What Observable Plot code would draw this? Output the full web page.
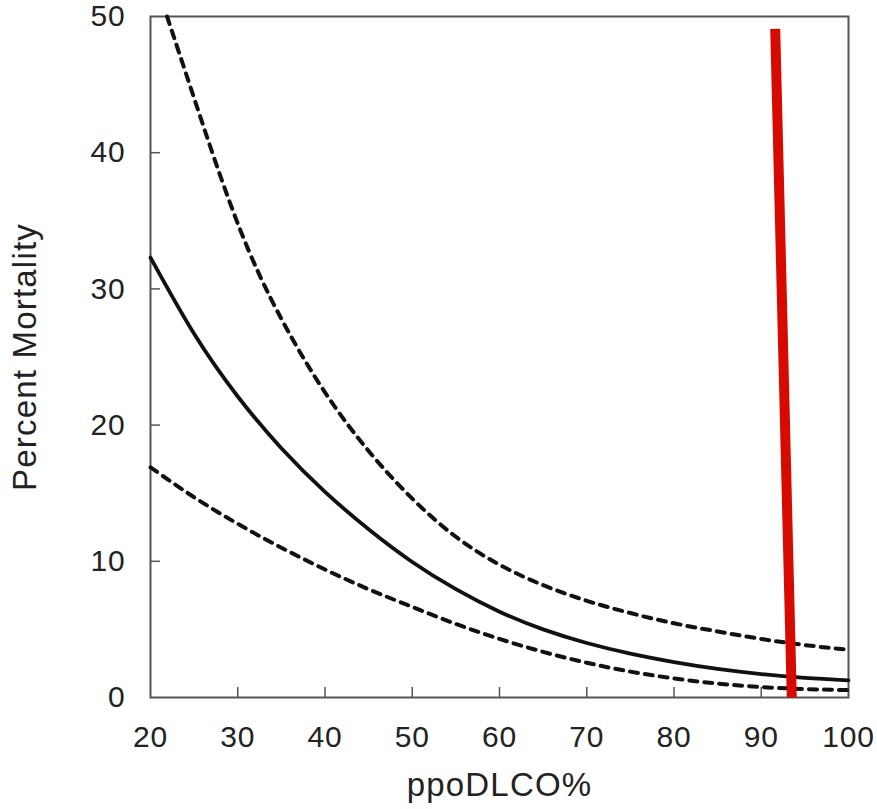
<!DOCTYPE html>
<html>
<head>
<meta charset="utf-8">
<script src="https://cdn.jsdelivr.net/npm/d3@7"></script>
<script src="https://cdn.jsdelivr.net/npm/@observablehq/plot@0.6"></script>
<style>
  html, body { margin: 0; padding: 0; background: #fff; }
  #chart svg { font-family: "Liberation Sans", Arial, Helvetica, sans-serif; }
  #chart svg g[aria-label="x-axis label"] text,
  #chart svg g[aria-label="y-axis label"] text { letter-spacing: 1.2px; }
  #chart svg g[aria-label="x-axis tick label"] text,
  #chart svg g[aria-label="y-axis tick label"] text { letter-spacing: 0.8px; }
</style>
</head>
<body>
<div id="chart"></div>
<script>
// ppoDLCO% values
const xFit = [20, 25, 30, 35, 40, 45, 50, 55, 60, 65, 70, 75, 80, 85, 90, 95, 100];
// Fitted percent mortality (solid)
const fitMortality = [32.3, 26.7, 22.1, 18.3, 15.1, 12.35, 9.95, 7.95, 6.3, 5.0, 4.0, 3.22, 2.6, 2.1, 1.72, 1.44, 1.26];
// Lower confidence band (dashed)
const lowerBand = [16.9, 14.7, 12.75, 11.0, 9.4, 7.95, 6.65, 5.4, 4.3, 3.35, 2.55, 1.9, 1.4, 1.02, 0.77, 0.62, 0.54];
// Upper confidence band (dashed), starts where it enters the plot at the top
const xUpper = [21.9, 25, 30, 35, 40, 45, 50, 55, 60, 65, 70, 75, 80, 85, 90, 95, 100];
const upperBand = [50, 44.0, 34.8, 27.8, 22.4, 18.1, 14.6, 11.8, 9.75, 8.25, 7.1, 6.2, 5.45, 4.85, 4.3, 3.85, 3.5];
// Red marker line (drawn over the chart)
const redX = [91.6, 93.5];
const redY = [49.1, 0];

const xTicks = [20, 30, 40, 50, 60, 70, 80, 90, 100];
const yTicks = [0, 10, 20, 30, 40, 50];
const xInnerTicks = [30, 40, 50, 60, 70, 80, 90];
const yInnerTicks = [10, 20, 30, 40];

const fit = xFit.map((x, i) => ({x, y: fitMortality[i]}));
const lower = xFit.map((x, i) => ({x, y: lowerBand[i]}));
const upper = xUpper.map((x, i) => ({x, y: upperBand[i]}));
const red = redX.map((x, i) => ({x, y: redY[i]}));

const chart = Plot.plot({
  width: 877,
  height: 809,
  marginLeft: 150,
  marginRight: 29,
  marginTop: 16,
  marginBottom: 112,
  x: {domain: [20, 100]},
  y: {domain: [0, 50]},
  style: {fontFamily: '"Liberation Sans", Arial, Helvetica, sans-serif', color: "#222", background: "#fff"},
  marks: [
    // inward tick marks
    Plot.axisX({ticks: xInnerTicks, tickSize: -10, text: null, label: null, stroke: "#555", strokeWidth: 1.5}),
    Plot.axisY({ticks: yInnerTicks, tickSize: -10, text: null, label: null, stroke: "#555", strokeWidth: 1.5}),
    // tick labels
    Plot.axisX({ticks: xTicks, tickSize: 0, tickPadding: 28, fontSize: 30, label: null, fill: "#222"}),
    Plot.axisY({ticks: yTicks, tickSize: 0, tickPadding: 25, fontSize: 30, label: null, fill: "#222"}),
    // axis titles
    Plot.axisX({ticks: [], tickSize: 0, label: "ppoDLCO%", labelAnchor: "center", labelArrow: "none", labelOffset: 98, fontSize: 33, fill: "#222"}),
    Plot.axisY({ticks: [], tickSize: 0, label: "Percent Mortality", labelAnchor: "center", labelArrow: "none", labelOffset: 138, fontSize: 33, fill: "#222"}),
    Plot.frame({stroke: "#555", strokeWidth: 2}),
    Plot.line(upper, {x: "x", y: "y", curve: "natural", stroke: "#111", strokeWidth: 4, strokeDasharray: "8,7"}),
    Plot.line(lower, {x: "x", y: "y", curve: "natural", stroke: "#111", strokeWidth: 4, strokeDasharray: "8,7"}),
    Plot.line(fit, {x: "x", y: "y", curve: "natural", stroke: "#111", strokeWidth: 3.8}),
    Plot.line(red, {x: "x", y: "y", stroke: "#d70a00", strokeWidth: 10, strokeLinecap: "butt"})
  ]
});
document.getElementById("chart").appendChild(chart);
</script>
</body>
</html>
